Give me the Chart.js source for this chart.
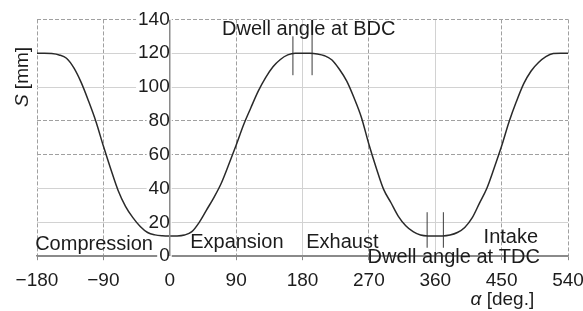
<!DOCTYPE html>
<html>
<head>
<meta charset="utf-8">
<script src="https://cdn.jsdelivr.net/npm/chart.js@4.4.1/dist/chart.umd.min.js"></script>
<style>
  html, body { margin: 0; padding: 0; background: #fff; }
  #wrap { width: 583px; height: 311px; }
</style>
</head>
<body>
<div id="wrap"><canvas id="strokeChart"></canvas></div>
<script>
// crank angle [deg] and piston position S [mm]
const alpha = [
  -180, -170, -160, -150, -140, -130, -120, -110, -100, -90, -80, -70, -60, -50, -40, -30, -20, -10,
  0, 10, 20, 30, 40, 50, 60, 70, 80, 90, 100, 110, 120, 130, 140, 150, 160, 170,
  180, 190, 200, 210, 220, 230, 240, 250, 260, 270, 280, 290, 300, 310, 320, 330, 340, 350,
  360, 370, 380, 390, 400, 410, 420, 430, 440, 450, 460, 470, 480, 490, 500, 510, 520, 530, 540
];
const stroke = [
  120, 120, 119.8, 119, 117, 111.3, 102.6, 91.6, 79.5, 65.1, 51.6, 38.9, 29.5, 22.8, 17.6, 14, 12.6, 12.1,
  12, 12, 12.5, 14.5, 20, 27.4, 34.8, 43.3, 54.2, 65.6, 77.6, 87.8, 97.6, 105.6, 112, 116.3, 119, 120,
  120, 120, 119.6, 118.5, 116, 110.5, 103.5, 93.5, 81.9, 66.2, 52.2, 39.5, 31.6, 23.6, 18, 14.5, 12.5, 12,
  12, 12, 12.5, 14, 17, 22.6, 31.4, 40.2, 52.3, 65.1, 79.3, 91.4, 102, 109.5, 114.5, 118, 119.8, 120, 120
];

// dwell marker lines: angle, bottom and top of each tick
const dwellAngles = [167, 193, 349, 371];
const dwellLow = [107, 107, 5, 5];
const dwellHigh = [130, 140, 26, 26];

const xTicks = [-180, -90, 0, 90, 180, 270, 360, 450, 540];
const yTicks = [0, 20, 40, 60, 80, 100, 120, 140];
const dashedY = [140, 80, 60];
const lightX = [180, 360];
const yAxisAt = 0; // the S axis crosses at alpha = 0

const phaseLabels = ["Compression", "Expansion", "Exhaust", "Dwell angle at TDC", "Intake", "Dwell angle at BDC"];

const FONT = "'Liberation Sans', Arial, Helvetica, sans-serif";
const INK = "#1c1c1c";
const AXIS = "#8a8a8a";

const labelPlacement = [
  { a: -182.5, s: 3.5, align: "left" },
  { a: 91, s: 5, align: "center" },
  { a: 234, s: 5, align: "center" },
  { a: 385, s: -4.2, align: "center" },
  { a: 462.5, s: 8, align: "center" },
  { a: 188.5, s: 131, align: "center" },
];

const textPlugin = {
  id: "phaseText",
  afterDraw(chart) {
    const { ctx, scales } = chart;
    ctx.save();
    ctx.fillStyle = INK;
    ctx.font = `20px ${FONT}`;
    ctx.textBaseline = "alphabetic";
    phaseLabels.forEach((t, i) => {
      const p = labelPlacement[i];
      ctx.textAlign = p.align;
      ctx.fillText(t, scales.x.getPixelForValue(p.a), scales.y.getPixelForValue(p.s));
    });

    // axis titles with italic symbols
    const drawMixed = (parts, x, y) => {
      let cx = x;
      parts.forEach(([txt, font]) => {
        ctx.font = font;
        ctx.textAlign = "left";
        ctx.fillText(txt, cx, y);
        cx += ctx.measureText(txt).width;
      });
    };
    const width = (parts) =>
      parts.reduce((w, [txt, font]) => { ctx.font = font; return w + ctx.measureText(txt).width; }, 0);

    const xTitle = [["\u03b1", `italic 19px ${FONT}`], [" [deg.]", `19px ${FONT}`]];
    const xw = width(xTitle);
    drawMixed(xTitle, scales.x.getPixelForValue(451) - xw / 2, 305);

    const yTitle = [["S", `italic 19px ${FONT}`], [" [mm]", `19px ${FONT}`]];
    const yw = width(yTitle);
    ctx.translate(28, 77);
    ctx.rotate(-Math.PI / 2);
    drawMixed(yTitle, -yw / 2, 0);
    ctx.restore();
  },
};

const datasets = [
  {
    // vertical axis line
    data: [{ x: yAxisAt, y: yTicks[0] }, { x: yAxisAt, y: yTicks[yTicks.length - 1] }],
    borderColor: AXIS,
    borderWidth: 1.5,
    pointRadius: 0,
    fill: false,
  },
  {
    data: alpha.map((a, i) => ({ x: a, y: stroke[i] })),
    borderColor: "#2a2a2a",
    borderWidth: 1.5,
    pointRadius: 0,
    cubicInterpolationMode: "monotone",
    fill: false,
  },
];
dwellAngles.forEach((a, i) => {
  datasets.push({
    data: [{ x: a, y: dwellLow[i] }, { x: a, y: dwellHigh[i] }],
    borderColor: "#3a3a3a",
    borderWidth: 1,
    pointRadius: 0,
    fill: false,
  });
});

new Chart(document.getElementById("strokeChart"), {
  type: "line",
  data: { datasets },
  options: {
    responsive: true,
    maintainAspectRatio: false,
    animation: false,
    layout: { padding: { left: 37, right: 15, top: 18, bottom: 10 } },
    plugins: { legend: { display: false }, tooltip: { enabled: false } },
    scales: {
      x: {
        type: "linear",
        min: -180,
        max: 540,
        afterBuildTicks: (s) => { s.ticks = xTicks.map((v) => ({ value: v })); },
        afterFit: (s) => { s.paddingLeft = 0; s.paddingRight = 0; },
        ticks: {
          color: INK,
          font: { family: FONT, size: 19 },
          padding: 9,
          maxRotation: 0,
          callback: (v) => String(v).replace("-", "\u2212"),
        },
        grid: {
          color: (c) => {
            if (!c.tick || c.tick.value === yAxisAt) return AXIS;
            return lightX.includes(c.tick.value) ? "#d2d2d2" : "#a0a0a0";
          },
          lineWidth: 1,
          tickLength: 4,
          tickColor: AXIS,
        },
        border: {
          color: AXIS,
          width: 1.5,
          dash: (c) => (c.tick && !lightX.includes(c.tick.value) ? [4, 2] : []),
        },
      },
      y: {
        type: "linear",
        position: { x: yAxisAt },
        min: 0,
        max: 140,
        afterBuildTicks: (s) => { s.ticks = yTicks.map((v) => ({ value: v })); },
        ticks: {
          color: INK,
          font: { family: FONT, size: 19 },
          padding: 8,
          showLabelBackdrop: true,
          backdropColor: "#ffffff",
          backdropPadding: { left: 2, right: 2, top: 0, bottom: 0 },
        },
        grid: {
          drawTicks: false,
          color: (c) => {
            if (!c.tick) return "#a0a0a0";
            if (c.tick.value === 0) return AXIS;
            return dashedY.includes(c.tick.value) ? "#a0a0a0" : "#d2d2d2";
          },
          lineWidth: 1,
        },
        border: {
          display: false,
          dash: (c) => (c.tick && dashedY.includes(c.tick.value) ? [4, 2] : []),
        },
      },
    },
  },
  plugins: [textPlugin],
});
</script>
</body>
</html>
